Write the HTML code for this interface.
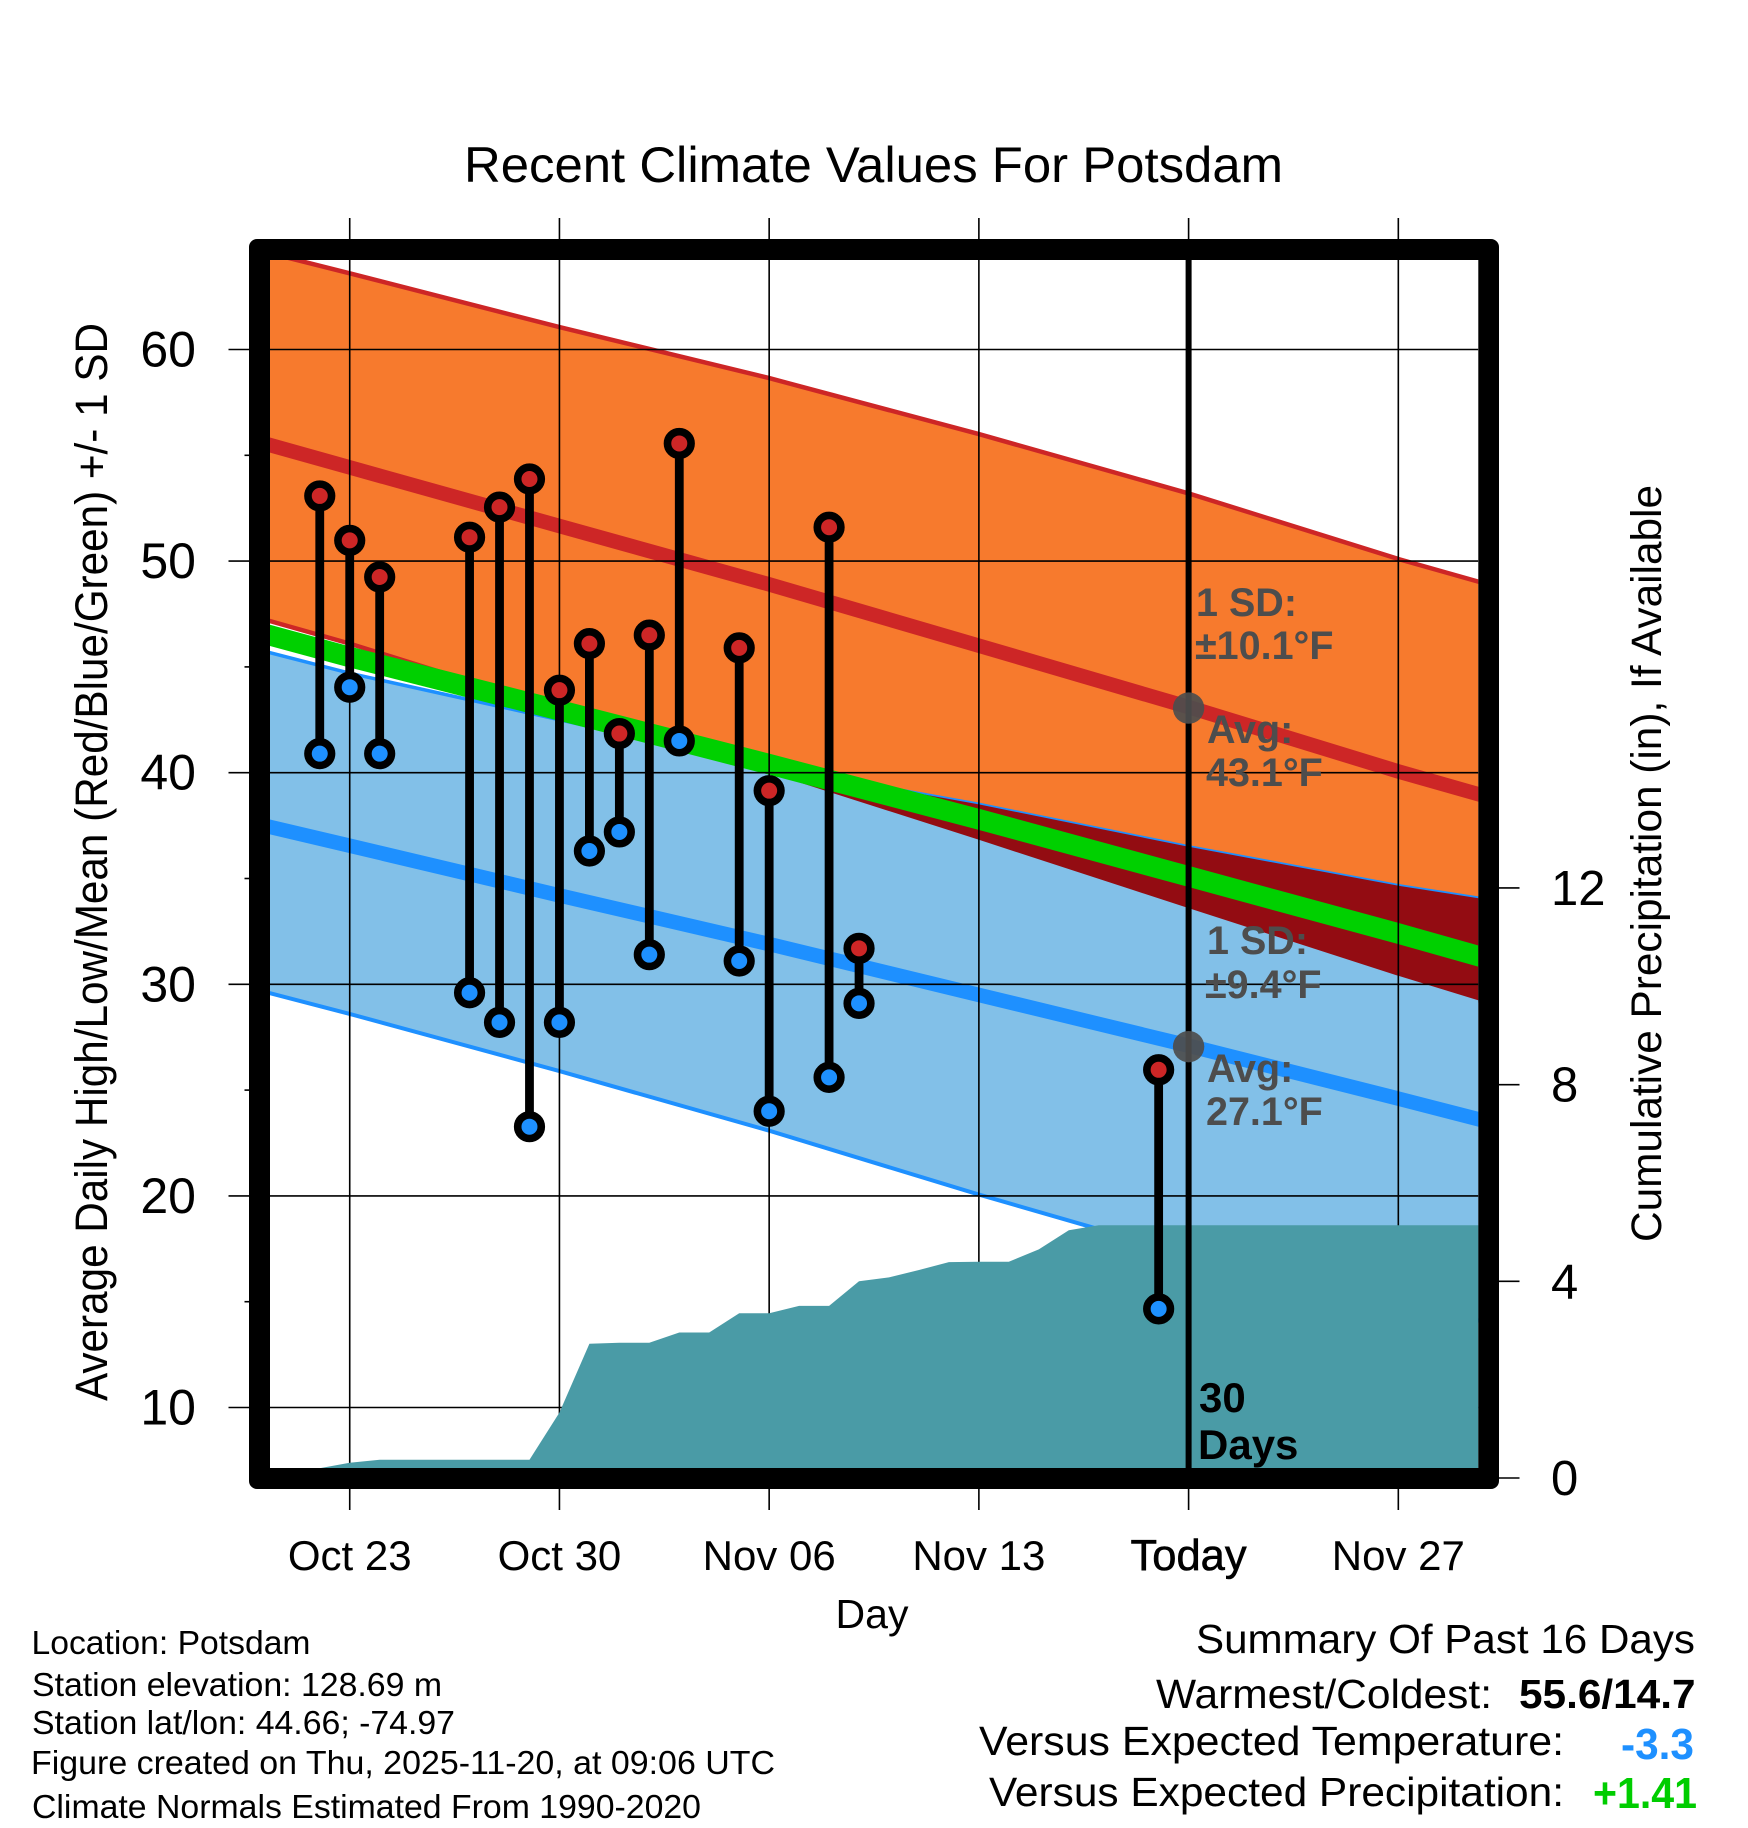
<!DOCTYPE html>
<html lang="en">
<head>
<meta charset="utf-8">
<title>Recent Climate Values For Potsdam</title>
<style>
html,body{margin:0;padding:0;background:#fff}
svg{display:block}
text{font-family:"Liberation Sans",Arial,sans-serif;fill:#000}
.b{font-weight:bold}
.g{font-weight:bold;fill:#4d4d4d;font-size:39.5px}
</style>
</head>
<body>
<svg xmlns="http://www.w3.org/2000/svg" width="1748" height="1828" viewBox="0 0 1748 1828">
<defs>
<clipPath id="plot-clip"><rect x="270" y="260" width="1208.3" height="1208"/></clipPath>
<clipPath id="high-band-clip"><polygon id="high-band-clip-shape" points="0,0"/></clipPath>
</defs>
<g id="plot" clip-path="url(#plot-clip)"></g>
<g id="axes"></g>
<path fill-rule="evenodd" fill="#000" d="M257 239H1491A8 8 0 0 1 1499 247V1481A8 8 0 0 1 1491 1489H257A8 8 0 0 1 249 1481V247A8 8 0 0 1 257 239ZM270 260V1468H1478.3V260Z"/>
<g id="marks"></g>
<text x="464" y="182" font-size="50" textLength="819" lengthAdjust="spacingAndGlyphs">Recent Climate Values For Potsdam</text>
<text transform="translate(107 1401) rotate(-90)" font-size="45" textLength="1078" lengthAdjust="spacingAndGlyphs">Average Daily High/Low/Mean (Red/Blue/Green) +/- 1 SD</text>
<text transform="translate(1661 1242) rotate(-90)" font-size="43" textLength="757" lengthAdjust="spacingAndGlyphs">Cumulative Precipitation (in), If Available</text>
<text x="872" y="1628" font-size="41" text-anchor="middle">Day</text>
<text class="g" x="1196" y="616">1 SD:</text>
<text class="g" x="1195" y="659">±10.1°F</text>
<text class="g" x="1207" y="743">Avg:</text>
<text class="g" x="1206" y="786">43.1°F</text>
<text class="g" x="1207" y="954">1 SD:</text>
<text class="g" x="1205" y="998">±9.4°F</text>
<text class="g" x="1207" y="1082">Avg:</text>
<text class="g" x="1206" y="1125">27.1°F</text>
<text class="b" x="1199" y="1412" font-size="42">30</text>
<text class="b" x="1198" y="1459" font-size="42">Days</text>
<text x="31.5" y="1654" font-size="33" textLength="279" lengthAdjust="spacingAndGlyphs">Location: Potsdam</text>
<text x="32" y="1696" font-size="33" textLength="410" lengthAdjust="spacingAndGlyphs">Station elevation: 128.69 m</text>
<text x="32" y="1734" font-size="33" textLength="423" lengthAdjust="spacingAndGlyphs">Station lat/lon: 44.66; -74.97</text>
<text x="31" y="1774" font-size="33" textLength="744" lengthAdjust="spacingAndGlyphs">Figure created on Thu, 2025-11-20, at 09:06 UTC</text>
<text x="32" y="1818" font-size="33" textLength="669" lengthAdjust="spacingAndGlyphs">Climate Normals Estimated From 1990-2020</text>
<text x="1196" y="1653" font-size="41" textLength="499" lengthAdjust="spacingAndGlyphs">Summary Of Past 16 Days</text>
<text x="1156" y="1708" font-size="41" textLength="336" lengthAdjust="spacingAndGlyphs">Warmest/Coldest:</text>
<text class="b" x="1519" y="1708" font-size="41" textLength="176.5" lengthAdjust="spacingAndGlyphs">55.6/14.7</text>
<text x="979" y="1755" font-size="41" textLength="585" lengthAdjust="spacingAndGlyphs">Versus Expected Temperature:</text>
<text class="b" x="1621" y="1759" font-size="44" style="fill:#1e90ff" textLength="73" lengthAdjust="spacingAndGlyphs">-3.3</text>
<text x="989" y="1806" font-size="41" textLength="575" lengthAdjust="spacingAndGlyphs">Versus Expected Precipitation:</text>
<text class="b" x="1593" y="1808" font-size="44" style="fill:#00cd00" textLength="104" lengthAdjust="spacingAndGlyphs">+1.41</text>
<script>
// Day offsets are relative to today (Nov 20)
const normalDays = [-31, -28, -21, -14, -7, 0, 7, 10];
const highUpper = [64.67, 63.6, 61.06, 58.65, 56.0, 53.2, 50.1, 48.9];
const highMean = [55.62, 54.43, 51.66, 48.9, 46.0, 43.1, 40.06, 38.85];
const highLower = [47.3, 46.1, 43.0, 40.0, 36.83, 33.6, 30.4, 29.1];
const lowUpper = [45.8, 44.7, 42.5, 40.3, 38.5, 36.5, 34.66, 34.0];
const lowMean = [37.55, 36.55, 34.2, 31.9, 29.5, 27.1, 24.6, 23.5];
const lowLower = [29.7, 28.6, 25.9, 23.08, 20.06, 17.2, 15.0, 14.0];
const overallMean = [46.62, 45.47, 42.95, 40.4, 37.8, 35.1, 32.4, 31.2];
const obsDays = [-29, -28, -27, -24, -23, -22, -21, -20, -19, -18, -17, -15, -14, -12, -11, -1];
const obsHigh = [53.08, 50.98, 49.25, 51.13, 52.55, 53.88, 43.9, 46.1, 41.85, 46.5, 55.56, 45.9, 39.15, 51.6, 31.7, 25.96];
const obsLow = [40.9, 44.04, 40.9, 29.6, 28.2, 23.27, 28.2, 36.3, 37.2, 31.4, 41.5, 31.1, 24.0, 25.6, 29.1, 14.66];
const precipDays = [-31, -29, -28, -27, -22, -21, -20, -19, -18, -17, -16, -15, -14, -13, -12, -11, -10, -9, -8, -7, -6, -5, -4, -3, 10];
const precipValues = [0, 0.2, 0.31, 0.37, 0.37, 1.33, 2.73, 2.75, 2.75, 2.96, 2.96, 3.35, 3.35, 3.5, 3.5, 4.0, 4.08, 4.23, 4.39, 4.4, 4.4, 4.65, 5.04, 5.14, 5.14];
const xTickDays = [-28, -21, -14, -7, 0, 7];
const xTickLabels = ['Oct 23', 'Oct 30', 'Nov 06', 'Nov 13', 'Today', 'Nov 27'];
const yTickValues = [60, 50, 40, 30, 20, 10];
const yMinorValues = [55, 45, 35, 25, 15];
const precipTickValues = [0, 4, 8, 12];
const todayMarkers = [43.1, 27.1];

const NS = 'http://www.w3.org/2000/svg';
const xOf = d => 1188.6 + d * 29.96;
const yTemp = v => 349.5 + (60 - v) * 21.16;
const yPrecip = v => 1478 - v * 49.17;
const plot = document.getElementById('plot');
const axes = document.getElementById('axes');
const marks = document.getElementById('marks');
const GRID = 1.6;

function make(tag, attrs, parent) {
  const el = document.createElementNS(NS, tag);
  for (const k in attrs) el.setAttribute(k, attrs[k]);
  parent.appendChild(el);
  return el;
}
function pts(days, vals) {
  return days.map((d, i) => xOf(d).toFixed(1) + ',' + yTemp(vals[i]).toFixed(1));
}
function band(upper, lower) {
  return pts(normalDays, upper).concat(pts(normalDays, lower).reverse()).join(' ');
}
function line(vals, color, width, name) {
  const l = make('polyline', {points: pts(normalDays, vals).join(' '), fill: 'none', stroke: color, 'stroke-width': width}, plot);
  
  
}

const highBand = band(highUpper, highLower);
const lowBand = band(lowUpper, lowLower);
document.getElementById('high-band-clip-shape').setAttribute('points', highBand);

let el = make('polygon', {points: highBand, fill: '#f77a2d'}, plot);


line(highUpper, '#cd2626', 4.5, 'high-upper-line');
line(highLower, '#cd2626', 4.5, 'high-lower-line');
el = make('polygon', {points: lowBand, fill: '#82c0e8'}, plot);


line(lowUpper, '#1e90ff', 3.5, 'low-upper-line');
line(lowLower, '#1e90ff', 4, 'low-lower-line');
el = make('polygon', {points: lowBand, fill: '#930c12', 'clip-path': 'url(#high-band-clip)'}, plot);


line(overallMean, '#00d000', 20.5, 'overall-mean-line');
line(highMean, '#cd2626', 14.5, 'high-mean-line');
line(lowMean, '#1e90ff', 14.5, 'low-mean-line');

xTickDays.forEach((d, i) => {
  const top = make('line', {x1: xOf(d), x2: xOf(d), y1: 218, y2: 245, stroke: '#000', 'stroke-width': GRID}, axes);
  
  
  const bottom = make('line', {x1: xOf(d), x2: xOf(d), y1: 1480, y2: 1510, stroke: '#000', 'stroke-width': GRID}, axes);
  
  
  const inner = make('line', {x1: xOf(d), x2: xOf(d), y1: 260, y2: 1468, stroke: '#000', 'stroke-width': GRID}, plot);
  
  
  const isToday = xTickLabels[i] === 'Today';
  const t = make('text', {x: xOf(d), y: 1570, 'font-size': isToday ? 43.5 : 42, 'text-anchor': 'middle'}, axes);
  t.textContent = xTickLabels[i];
  
  
  if (isToday) { t.setAttribute('stroke', '#000'); t.setAttribute('stroke-width', '0.6'); }
});
yTickValues.forEach(v => {
  const g = make('line', {x1: 228.5, x2: 255, y1: yTemp(v), y2: yTemp(v), stroke: '#000', 'stroke-width': GRID}, axes);
  
  
  const inner = make('line', {x1: 270, x2: 1478.3, y1: yTemp(v), y2: yTemp(v), stroke: '#000', 'stroke-width': GRID}, plot);
  
  
  const t = make('text', {x: 196, y: yTemp(v) + 17, 'font-size': 50, 'text-anchor': 'end'}, axes);
  t.textContent = v;
  
  
});
yMinorValues.forEach(v => {
  const g = make('line', {x1: 244.5, x2: 252, y1: yTemp(v), y2: yTemp(v), stroke: '#000', 'stroke-width': GRID}, axes);
  
  
});
precipTickValues.forEach(v => {
  const g = make('line', {x1: 1495, x2: 1519.5, y1: yPrecip(v), y2: yPrecip(v), stroke: '#000', 'stroke-width': GRID}, axes);
  
  
  const t = make('text', {x: 1551, y: yPrecip(v) + 17, 'font-size': 49}, axes);
  t.textContent = v;
  
  
});

const precipPts = precipDays.map((d, i) => xOf(d).toFixed(1) + ',' + yPrecip(precipValues[i]).toFixed(1));
precipPts.push(xOf(precipDays[precipDays.length - 1]).toFixed(1) + ',' + yPrecip(0));
precipPts.push(xOf(precipDays[0]).toFixed(1) + ',' + yPrecip(0));
el = make('polygon', {points: precipPts.join(' '), fill: '#4a9ba6'}, plot);



el = make('line', {x1: xOf(0), x2: xOf(0), y1: 260, y2: 1468, stroke: '#000', 'stroke-width': 6}, plot);



todayMarkers.forEach(v => {
  const c = make('circle', {cx: xOf(0), cy: yTemp(v) + 1, r: 15.7, fill: '#4d4d4d', 'fill-opacity': 0.93}, plot);
  
  
});

obsDays.forEach((d, i) => {
  const x = xOf(d);
  const stem = make('line', {x1: x, x2: x, y1: yTemp(obsHigh[i]), y2: yTemp(obsLow[i]), stroke: '#000', 'stroke-width': 8.8}, marks);
  
  
  const hi = make('circle', {cx: x, cy: yTemp(obsHigh[i]), r: 11.8, fill: '#cd2626', stroke: '#000', 'stroke-width': 7.6}, marks);
  
  
  const lo = make('circle', {cx: x, cy: yTemp(obsLow[i]), r: 11.8, fill: '#1e90ff', stroke: '#000', 'stroke-width': 7.6}, marks);
  
  
});
</script>
</svg>
</body>
</html>
